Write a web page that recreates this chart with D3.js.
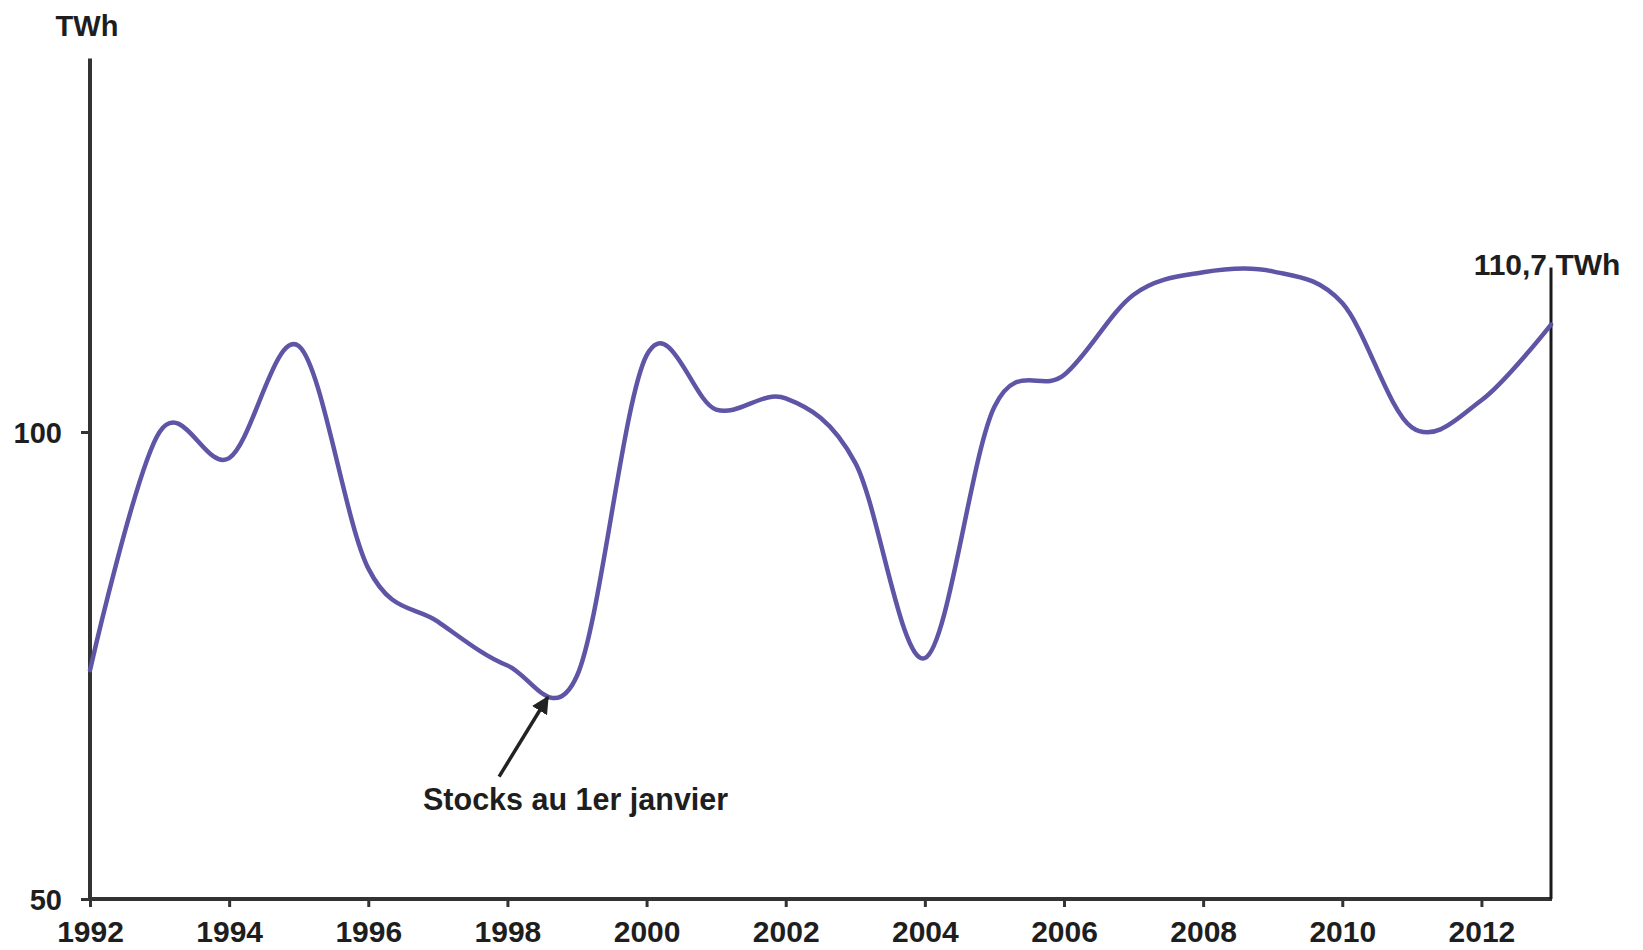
<!DOCTYPE html>
<html>
<head>
<meta charset="utf-8">
<script src="https://cdn.jsdelivr.net/npm/d3@7/dist/d3.min.js"></script>
<style>
  html, body { margin: 0; padding: 0; background: #ffffff; }
  svg text { font-family: "Liberation Sans", Arial, sans-serif; font-weight: bold; fill: #1e1e1e; }
</style>
</head>
<body>
<svg id="chart" width="1643" height="950"></svg>
<script>
// Stocks au 1er janvier (TWh)
const years = [1992, 1993, 1994, 1995, 1996, 1997, 1998, 1999, 2000, 2001, 2002,
               2003, 2004, 2005, 2006, 2007, 2008, 2009, 2010, 2011, 2012, 2013];
const stocks = [74.5, 100.0, 97.2, 109.2, 85.4, 79.7, 75.0, 73.9, 108.2, 102.4, 103.6,
                96.7, 75.8, 102.7, 106.1, 114.7, 117.1, 117.2, 113.8, 100.5, 103.4, 111.5];
const xTickYears = [1992, 1994, 1996, 1998, 2000, 2002, 2004, 2006, 2008, 2010, 2012];
const yTickValues = [50, 100];
const unitLabel = "TWh";
const endLabel = "110,7 TWh";
const annotationLabel = "Stocks au 1er janvier";

const data = years.map((yr, i) => ({ year: yr, value: stocks[i] }));

const svg = d3.select("#chart");
const x = d3.scaleLinear().domain([1992, 2013]).range([90, 1551]);
const y = d3.scaleLinear().domain([50, 100]).range([899, 432]);

const axisColor = "#333333";

// Y axis
const yAxis = d3.axisLeft(y).tickValues(yTickValues).tickSize(9).tickPadding(19).tickFormat(d3.format("d"));
const gy = svg.append("g").attr("transform", `translate(${x(1992)},0)`).call(yAxis);
gy.select(".domain").remove();
gy.append("line").attr("x1", 0).attr("x2", 0).attr("y1", y(140)).attr("y2", y(50) + 2)
  .attr("stroke", axisColor).attr("stroke-width", 4);
gy.selectAll(".tick line").attr("stroke", axisColor).attr("stroke-width", 3);
gy.selectAll(".tick text").style("font-size", "29px").attr("dy", "0.36em").attr("fill", "#1e1e1e");

// X axis
const xAxis = d3.axisBottom(x).tickValues(xTickYears).tickSize(8).tickPadding(14).tickFormat(d3.format("d"));
const gx = svg.append("g").attr("transform", `translate(0,${y(50)})`).call(xAxis);
gx.select(".domain").remove();
gx.append("line").attr("x1", x(1992) - 2).attr("x2", x(2013) + 1).attr("y1", 0).attr("y2", 0)
  .attr("stroke", axisColor).attr("stroke-width", 4);
gx.selectAll(".tick line").attr("stroke", axisColor).attr("stroke-width", 3);
gx.selectAll(".tick text").style("font-size", "30px").attr("dy", "0.71em").attr("fill", "#1e1e1e");

// Right vertical line
svg.append("line").attr("x1", x(2013)).attr("x2", x(2013))
  .attr("y1", y(117.6)).attr("y2", y(50))
  .attr("stroke", "#1a1a1a").attr("stroke-width", 3);

// Curve
const line = d3.line().x(d => x(d.year)).y(d => y(d.value)).curve(d3.curveCatmullRom.alpha(0));
svg.append("path").datum(data).attr("d", line)
  .attr("fill", "none").attr("stroke", "#5e55a6").attr("stroke-width", 4.5)
  .attr("stroke-linejoin", "round").attr("stroke-linecap", "round");

// Labels
svg.append("text").attr("x", x(1992) - 3).attr("y", 36).attr("text-anchor", "middle")
  .style("font-size", "29px").text(unitLabel);
svg.append("text").attr("x", x(2013) - 4).attr("y", 275).attr("text-anchor", "middle")
  .style("font-size", "30px").text(endLabel);

// Annotation arrow
const defs = svg.append("defs");
defs.append("marker").attr("id", "arrowhead").attr("viewBox", "0 0 10 10")
  .attr("refX", 9).attr("refY", 5).attr("markerWidth", 5).attr("markerHeight", 5)
  .attr("markerUnits", "strokeWidth").attr("orient", "auto")
  .append("path").attr("d", "M0,0 L10,5 L0,10 Z").attr("fill", "#222");
svg.append("line")
  .attr("x1", x(1997.88)).attr("y1", y(63.1))
  .attr("x2", x(1998.58)).attr("y2", y(71.6))
  .attr("stroke", "#222").attr("stroke-width", 3.5)
  .attr("marker-end", "url(#arrowhead)");
svg.append("text").attr("x", x(1998.98)).attr("y", y(59.5)).attr("text-anchor", "middle")
  .style("font-size", "30.5px").text(annotationLabel);
</script>
</body>
</html>
